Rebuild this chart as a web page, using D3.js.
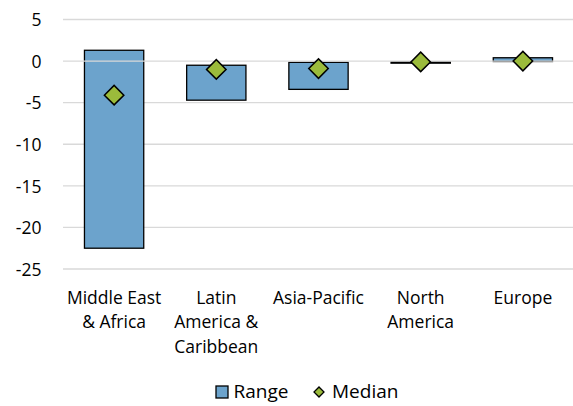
<!DOCTYPE html>
<html>
<head>
<meta charset="utf-8">
<script src="https://cdn.jsdelivr.net/npm/d3@7"></script>
<style>
  html, body { margin: 0; padding: 0; background: #fff; }
  svg { display: block; font-family: "Open Sans", "Noto Sans", sans-serif; }
</style>
</head>
<body>
<svg id="chart" width="573" height="406"></svg>
<script>
const categories = [["Middle East", "& Africa"], ["Latin", "America &", "Caribbean"], ["Asia-Pacific"], ["North", "America"], ["Europe"]];
const rangeHigh = [1.3, -0.5, -0.15, -0.1, 0.4];
const rangeLow = [-22.5, -4.7, -3.4, -0.25, -0.05];
const median = [-4.1, -1.0, -0.9, -0.1, 0.0];
const yTicks = [5, 0, -5, -10, -15, -20, -25];
const legendLabels = ["Range", "Median"];

const FS = 17.5;
const svg = d3.select("#chart");
const plotLeft = 63, plotRight = 574, plotTop = 19.5, plotBottom = 269;
const names = categories.map(c => c.join(" "));

const x = d3.scaleBand().domain(names).range([plotLeft, plotRight]).paddingInner(0.42).paddingOuter(0.21);
const y = d3.scaleLinear().domain([-25, 5]).range([plotBottom, plotTop]);

// gridlines
svg.append("g").selectAll("line").data(yTicks.filter(d => d !== 0)).join("line")
  .attr("x1", plotLeft).attr("x2", 573)
  .attr("y1", d => y(d)).attr("y2", d => y(d))
  .attr("stroke", "#d9d9d9").attr("stroke-width", 1.3);

// y axis labels
const yAxis = d3.axisLeft(y).tickValues(yTicks).tickSize(0).tickPadding(0).tickFormat(d => String(d));
const ya = svg.append("g").attr("transform", "translate(41.5,0)").call(yAxis);
ya.select(".domain").remove();
ya.selectAll("text").attr("font-size", FS).attr("fill", "#000").attr("dy", "0.36em")
  .attr("font-family", '"Open Sans", "Noto Sans", sans-serif');

// bars
svg.append("g").selectAll("rect").data(names).join("rect")
  .attr("x", d => x(d))
  .attr("width", x.bandwidth())
  .attr("y", (d, i) => y(rangeHigh[i]))
  .attr("height", (d, i) => Math.max(1, y(rangeLow[i]) - y(rangeHigh[i])))
  .attr("fill", "#6ca3cc").attr("stroke", "#000").attr("stroke-width", 1.3);

// zero axis line on top
svg.append("line").attr("x1", plotLeft).attr("x2", 573).attr("y1", y(0)).attr("y2", y(0))
  .attr("stroke", "#d9d9d9").attr("stroke-width", 1.3);

// medians
const diamond = d3.symbol().type(d3.symbolSquare).size(190);
svg.append("g").selectAll("path").data(names).join("path")
  .attr("d", diamond)
  .attr("transform", (d, i) => `translate(${x(d) + x.bandwidth() / 2},${y(median[i])}) rotate(45)`)
  .attr("fill", "#9bbb3b").attr("stroke", "#000").attr("stroke-width", 1.5);

// x labels
const xl = svg.append("g").selectAll("text").data(categories).join("text")
  .attr("x", (d, i) => x(names[i]) + x.bandwidth() / 2)
  .attr("y", 303.5)
  .attr("text-anchor", "middle").attr("font-size", FS).attr("fill", "#000");
xl.selectAll("tspan").data(d => d).join("tspan")
  .attr("x", function () { return d3.select(this.parentNode).attr("x"); })
  .attr("dy", (d, i) => i === 0 ? 0 : 24.6)
  .text(d => d);

// legend
const lg = svg.append("g");
lg.append("rect").attr("x", 216).attr("y", 386).attr("width", 12).attr("height", 12)
  .attr("fill", "#6ca3cc").attr("stroke", "#000").attr("stroke-width", 1.3);
lg.append("text").attr("x", 233.5).attr("y", 398).attr("font-size", 19).attr("fill", "#000").text(legendLabels[0]);
lg.append("path").attr("d", d3.symbol().type(d3.symbolSquare).size(50))
  .attr("transform", "translate(319,392) rotate(45)")
  .attr("fill", "#9bbb3b").attr("stroke", "#000").attr("stroke-width", 1.3);
lg.append("text").attr("x", 332).attr("y", 398).attr("font-size", 19).attr("fill", "#000").text(legendLabels[1]);
</script>
</body>
</html>
